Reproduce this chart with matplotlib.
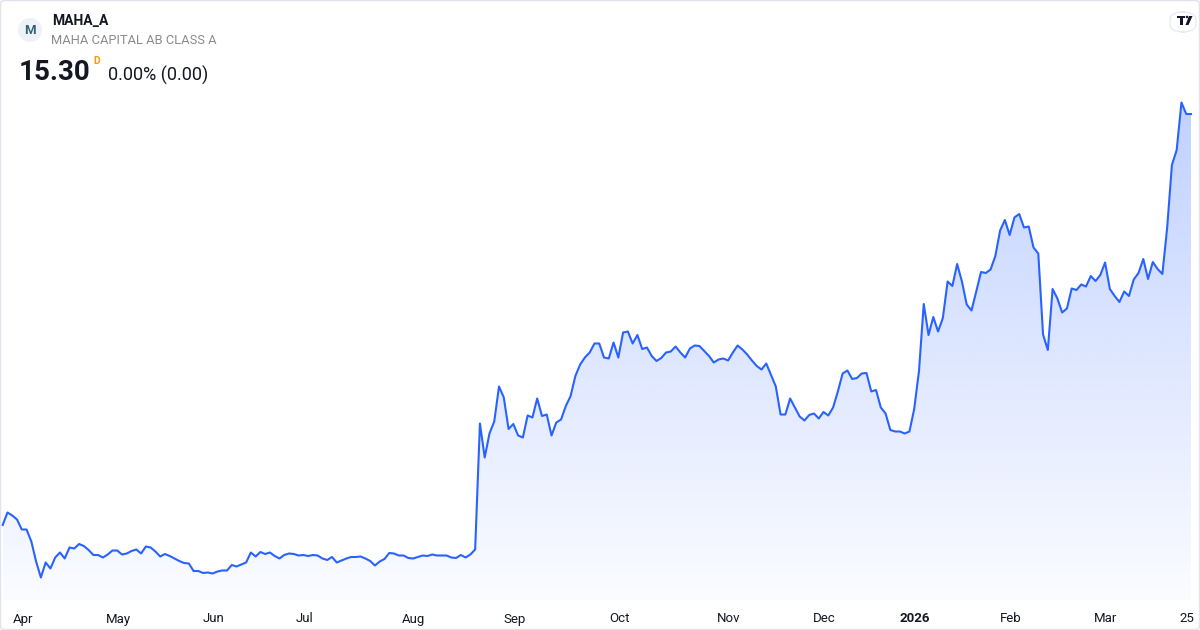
# MAHA_A daily close, one year, drawn like a TradingView mini chart

import numpy as np
import pandas as pd
import matplotlib
matplotlib.use("Agg")
import matplotlib.pyplot as plt
import matplotlib.transforms as mtransforms
from matplotlib.patches import Ellipse, FancyBboxPatch, Polygon

plt.rcParams['font.family'] = ['Roboto', 'DejaVu Sans']

W, H = 1200, 630

symbol = "MAHA_A"
company = "MAHA CAPITAL AB CLASS A"
last_price = "15.30"
change_text = "0.00% (0.00)"

# Stockholm exchange holidays inside the range
holidays = ['2025-04-18', '2025-04-21', '2025-05-01', '2025-05-29', '2025-06-06',
            '2025-06-20', '2025-12-24', '2025-12-25', '2025-12-26', '2025-12-31',
            '2026-01-01', '2026-01-06']

# Close prices, one per trading day
close = [
    7.08, 7.33, 7.27, 7.19, 6.99, 6.99, 6.75, 6.35, 6.03, 6.33,
    6.21, 6.43, 6.53, 6.41, 6.63, 6.61, 6.70, 6.66, 6.58, 6.48,
    6.48, 6.43, 6.49, 6.57, 6.57, 6.49, 6.51, 6.56, 6.59, 6.51,
    6.65, 6.63, 6.55, 6.45, 6.50, 6.46, 6.41, 6.36, 6.32, 6.31,
    6.16, 6.16, 6.12, 6.13, 6.11, 6.15, 6.17, 6.17, 6.28, 6.25,
    6.29, 6.33, 6.53, 6.45, 6.54, 6.50, 6.53, 6.46, 6.41, 6.48,
    6.51, 6.50, 6.47, 6.48, 6.46, 6.48, 6.47, 6.41, 6.38, 6.44,
    6.33, 6.37, 6.41, 6.44, 6.44, 6.45, 6.41, 6.36, 6.27, 6.35,
    6.40, 6.52, 6.51, 6.47, 6.47, 6.42, 6.41, 6.44, 6.47, 6.46,
    6.49, 6.47, 6.47, 6.47, 6.43, 6.42, 6.48, 6.43, 6.49, 6.59,
    9.11, 8.43, 8.91, 9.15, 9.85, 9.63, 9.00, 9.10, 8.87, 8.83,
    9.27, 9.23, 9.61, 9.26, 9.29, 8.87, 9.13, 9.19, 9.46, 9.66,
    10.06, 10.29, 10.43, 10.53, 10.71, 10.71, 10.43, 10.41, 10.73, 10.43,
    10.93, 10.95, 10.71, 10.88, 10.60, 10.63, 10.46, 10.36, 10.42, 10.53,
    10.55, 10.65, 10.53, 10.43, 10.61, 10.67, 10.66, 10.56, 10.46, 10.33,
    10.39, 10.41, 10.37, 10.53, 10.67, 10.59, 10.49, 10.37, 10.26, 10.19,
    10.31, 10.08, 9.85, 9.29, 9.29, 9.61, 9.43, 9.25, 9.17, 9.28,
    9.31, 9.21, 9.34, 9.27, 9.43, 9.75, 10.11, 10.17, 10.00, 10.02,
    10.11, 10.12, 9.75, 9.78, 9.43, 9.31, 8.98, 8.95, 8.95, 8.91,
    8.95, 9.40, 10.16, 11.50, 10.88, 11.24, 10.95, 11.22, 11.95, 11.86,
    12.30, 11.95, 11.49, 11.37, 11.75, 12.14, 12.12, 12.19, 12.46, 12.97,
    13.18, 12.88, 13.23, 13.30, 13.03, 13.05, 12.63, 12.51, 10.89, 10.58,
    11.80, 11.61, 11.33, 11.41, 11.81, 11.78, 11.89, 11.85, 12.06, 11.96,
    12.08, 12.33, 11.80, 11.66, 11.54, 11.75, 11.66, 11.99, 12.12, 12.40,
    12.00, 12.34, 12.20, 12.10, 13.02, 14.28, 14.58, 15.53, 15.30, 15.30,
]

dates = pd.bdate_range('2025-03-25', '2026-03-25', freq='C', holidays=holidays)
df = pd.DataFrame({'Close': close}, index=dates[:len(close)])
x = np.arange(len(df))

# month ticks on the first trading day of each month
tick_pos, tick_lab = [], []
for i in range(1, len(df)):
    if df.index[i].month != df.index[i - 1].month:
        tick_pos.append(i)
        tick_lab.append(str(df.index[i].year) if df.index[i].month == 1
                        else df.index[i].strftime('%b'))
tick_pos.append(len(df) - 1)
tick_lab.append(str(df.index[-1].day))


def fx(px):
    return px / W


def fy(py):
    return 1 - py / H


fig = plt.figure(figsize=(12, 6.3), dpi=100)
fig.patch.set_facecolor('white')

# plot area spans the full width, from y=90 to y=600 px
ax = fig.add_axes([0, fy(600), 1, (600 - 90) / H])
ax.set_facecolor('none')

dx = (1191 - 2.7) / (len(df) - 1)
ax.set_xlim(-2.7 / dx, len(df) - 1 + (W - 1191) / dx)
ax.set_ylim(5.58, 15.78)

line_color = '#2962ff'

# gradient fill under the line
grad = np.zeros((256, 2, 4))
grad[..., 0] = 41 / 255
grad[..., 1] = 98 / 255
grad[..., 2] = 1.0
grad[..., 3] = np.linspace(0.30, 0.02, 256)[:, None]
poly = ax.fill_between(x, df['Close'], 5.58, facecolor='none', edgecolor='none')
im = ax.imshow(grad, aspect='auto', origin='upper',
               extent=[x[0], x[-1], 5.58, 15.78], zorder=1)
im.set_clip_path(poly.get_paths()[0], transform=ax.transData)

ax.plot(x, df['Close'], color=line_color, lw=1.5, zorder=3, solid_joinstyle='round')

ax.set_xticks(tick_pos)
ax.set_xticklabels(tick_lab)
ax.tick_params(axis='x', length=0, pad=9, labelsize=9.5, labelcolor='#131722')
shift = mtransforms.ScaledTranslation(-4 / 100, 0, fig.dpi_scale_trans)
for lab in ax.get_xticklabels():
    lab.set_transform(lab.get_transform() + shift)
    if lab.get_text().isdigit() and len(lab.get_text()) == 4:
        lab.set_fontweight('bold')
ax.set_yticks([])
for s in ax.spines.values():
    s.set_visible(False)

# header
fig.patches.append(Ellipse((fx(30), fy(30)), 24 / W, 24 / H, transform=fig.transFigure,
                           facecolor='#eef1f7', edgecolor='none'))
fig.text(fx(30), fy(30.5), 'M', ha='center', va='center', fontsize=9.5,
         fontweight='bold', color='#2f6370')
fig.text(fx(52), fy(21), symbol, ha='left', va='center', fontsize=10,
         fontweight='bold', color='#131722')
fig.text(fx(51), fy(41), company, ha='left', va='center', fontsize=9.3,
         color='#8a8a8a')
fig.text(fx(19), fy(72), last_price, ha='left', va='center', fontsize=20,
         fontweight='bold', color='#131722')
fig.text(fx(93), fy(61), 'D', ha='left', va='center', fontsize=7.5,
         fontweight='bold', color='#ff9800')
fig.text(fx(108), fy(75), change_text, ha='left', va='center', fontsize=13,
         color='#131722')

# TradingView badge, top right
fig.patches.append(FancyBboxPatch((fx(1170), fy(32)), 26 / W, 20 / H,
                                  boxstyle='round,pad=0,rounding_size=0.012',
                                  transform=fig.transFigure, facecolor='white',
                                  edgecolor='#e6e8ee', lw=0.8))
logo = [
    [(1177, 16), (1185, 16), (1185, 18), (1182.5, 18), (1182.5, 25), (1180, 25), (1180, 18), (1177, 18)],
    [(1189, 16), (1192.5, 16), (1188.5, 25), (1185.5, 25)],
]
for pts in logo:
    fig.patches.append(Polygon([(fx(a), fy(b)) for a, b in pts], closed=True,
                               transform=fig.transFigure, facecolor='#131722',
                               edgecolor='none'))
fig.patches.append(Ellipse((fx(1187), fy(17)), 2.6 / W, 2.6 / H, transform=fig.transFigure,
                           facecolor='#131722', edgecolor='none'))

# outer frame
fig.patches.append(FancyBboxPatch((fx(0.5), fy(629.5)), 1199 / W, 629 / H,
                                  boxstyle='round,pad=0,rounding_size=0.004',
                                  transform=fig.transFigure, facecolor='none',
                                  edgecolor='#e0e3eb', lw=1))

fig.savefig('out.png', dpi=100)
